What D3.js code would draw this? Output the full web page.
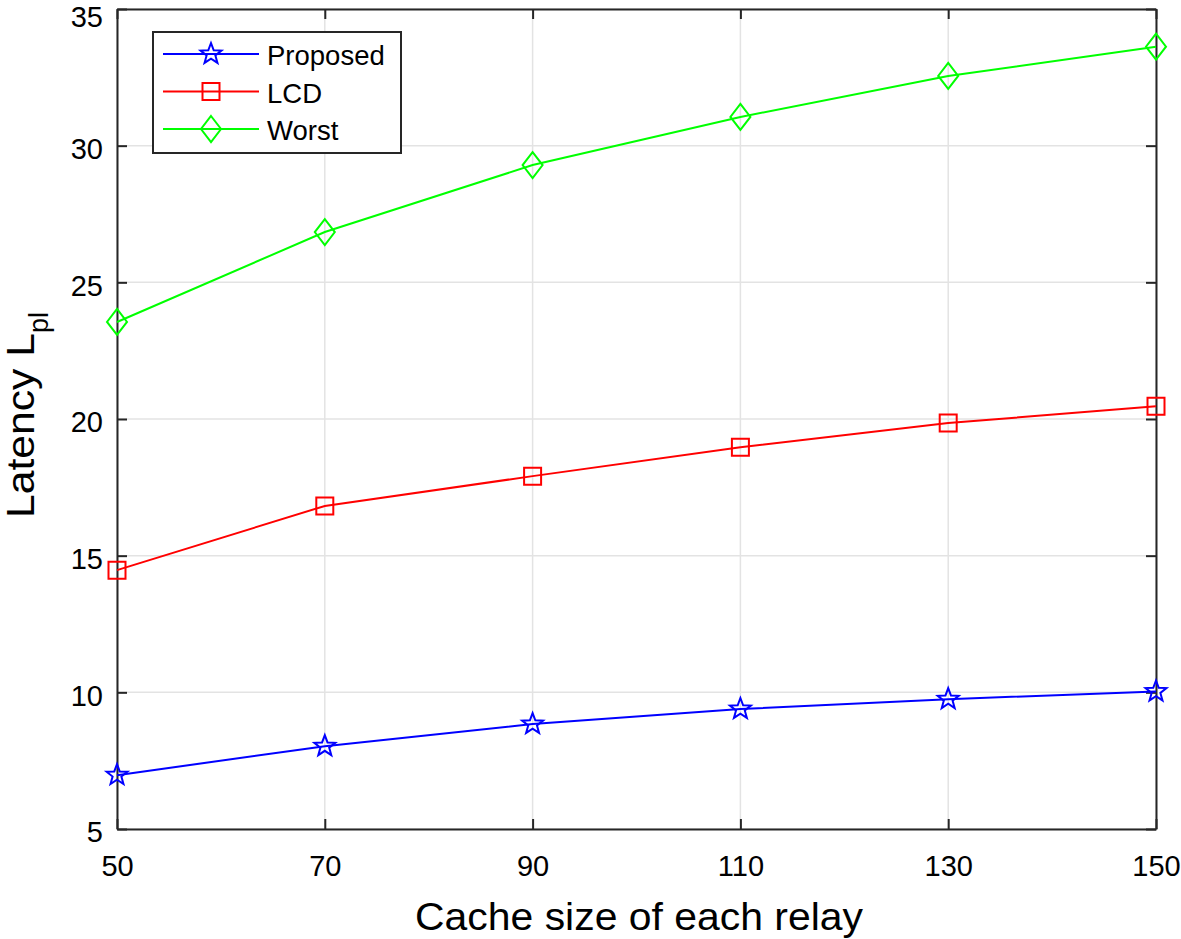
<!DOCTYPE html>
<html><head><meta charset="utf-8">
<script src="https://cdn.jsdelivr.net/npm/d3@7"></script>
<style>body{margin:0;background:#fff}svg{display:block;font-family:"Liberation Sans",Arial,Helvetica,sans-serif}</style>
</head><body><svg id="c" width="1181" height="939"></svg>
<script>
const categories = [50, 70, 90, 110, 130, 150];
const proposed = [6.97, 8.03, 8.84, 9.39, 9.75, 10.03];
const lcd = [14.47, 16.82, 17.91, 18.97, 19.85, 20.47];
const worst = [23.55, 26.84, 29.29, 31.05, 32.55, 33.62];
const xTicks = [50, 70, 90, 110, 130, 150];
const yTicks = [5, 10, 15, 20, 25, 30, 35];
const seriesNames = ["Proposed", "LCD", "Worst"];

const series = [
  {name: seriesNames[0], values: proposed, color: "#0000ff", marker: "star"},
  {name: seriesNames[1], values: lcd, color: "#ff0000", marker: "square"},
  {name: seriesNames[2], values: worst, color: "#00ff00", marker: "diamond"}
];

const L = 117, R = 1156, T = 9, B = 829;
const svg = d3.select("#c");
const x = d3.scaleLinear().domain([50, 150]).range([L, R]);
const y = d3.scaleLinear().domain([5, 35]).range([B, T]);

// grid
const g = svg.append("g");
g.selectAll(".gx").data(xTicks).join("line")
  .attr("x1", d => x(d)).attr("x2", d => x(d)).attr("y1", T).attr("y2", B)
  .attr("stroke", "#e3e3e3").attr("stroke-width", 1.5);
g.selectAll(".gy").data(yTicks).join("line")
  .attr("y1", d => y(d)).attr("y2", d => y(d)).attr("x1", L).attr("x2", R)
  .attr("stroke", "#e3e3e3").attr("stroke-width", 1.5);

// axes (ticks inside)
const axB = svg.append("g").attr("transform", `translate(0,${B})`)
  .call(d3.axisBottom(x).tickValues(xTicks).tickSizeInner(-10).tickSizeOuter(0).tickPadding(26));
const axT = svg.append("g").attr("transform", `translate(0,${T})`)
  .call(d3.axisTop(x).tickValues(xTicks).tickSizeInner(-10).tickSizeOuter(0).tickFormat(""));
const axL = svg.append("g").attr("transform", `translate(${L},0)`)
  .call(d3.axisLeft(y).tickValues(yTicks).tickSizeInner(-10).tickSizeOuter(0).tickPadding(14));
const axR = svg.append("g").attr("transform", `translate(${R},0)`)
  .call(d3.axisRight(y).tickValues(yTicks).tickSizeInner(-10).tickSizeOuter(0).tickFormat(""));
[axB, axT, axL, axR].forEach(a => {
  a.select(".domain").attr("stroke", "#262626").attr("stroke-width", 2);
  a.selectAll(".tick line").attr("stroke", "#262626").attr("stroke-width", 2);
  a.selectAll("text").attr("font-size", 29).attr("fill", "#000").attr("font-family", "Liberation Sans, Arial, sans-serif");
});
axL.selectAll("text").attr("dy", d => d === 35 ? "0.6em" : "0.44em");

function markerPath(type, s) {
  if (type === "square") return `M${-s},${-s}H${s}V${s}H${-s}Z`;
  if (type === "diamond") return `M0,${-s*1.3}L${s},0L0,${s*1.3}L${-s},0Z`;
  // star (pentagram)
  let p = "";
  for (let i = 0; i < 10; i++) {
    const r = i % 2 === 0 ? s : s * 0.42;
    const a = -Math.PI / 2 + i * Math.PI / 5;
    p += (i === 0 ? "M" : "L") + (r * Math.cos(a)).toFixed(2) + "," + (r * Math.sin(a)).toFixed(2);
  }
  return p + "Z";
}
const mSize = {star: 11, square: 8.5, diamond: 10};

const line = d3.line().x((d, i) => x(categories[i])).y(d => y(d));
series.forEach(s => {
  svg.append("path").attr("d", line(s.values)).attr("fill", "none")
    .attr("stroke", s.color).attr("stroke-width", 2);
  svg.selectAll(null).data(s.values).join("path")
    .attr("transform", (d, i) => `translate(${x(categories[i])},${y(d)})`)
    .attr("d", markerPath(s.marker, mSize[s.marker]))
    .attr("fill", "none").attr("stroke", s.color).attr("stroke-width", 2);
});

// legend
const lg = svg.append("g");
lg.append("rect").attr("x", 153).attr("y", 32).attr("width", 248).attr("height", 121)
  .attr("fill", "#fff").attr("stroke", "#262626").attr("stroke-width", 2);
series.forEach((s, i) => {
  const yy = 54 + i * 37.5;
  lg.append("line").attr("x1", 163).attr("x2", 259).attr("y1", yy).attr("y2", yy)
    .attr("stroke", s.color).attr("stroke-width", 2);
  lg.append("path").attr("transform", `translate(211,${yy})`).attr("d", markerPath(s.marker, mSize[s.marker]))
    .attr("fill", "none").attr("stroke", s.color).attr("stroke-width", 2);
  lg.append("text").attr("x", 267).attr("y", yy + 11).attr("font-size", 27.5).attr("fill", "#000").text(s.name);
});

// axis labels
svg.append("text").attr("x", 415).attr("y", 930)
  .attr("font-size", 38).attr("textLength", 448).attr("lengthAdjust", "spacingAndGlyphs")
  .attr("fill", "#000").text("Cache size of each relay");
const yl = svg.append("text").attr("transform", `translate(34,518) rotate(-90)`)
  .attr("font-size", 38).attr("fill", "#000");
yl.append("tspan").attr("textLength", 185).attr("lengthAdjust", "spacingAndGlyphs").text("Latency L");
yl.append("tspan").attr("font-size", 27).attr("dy", 14).text("pl");
</script></body></html>
